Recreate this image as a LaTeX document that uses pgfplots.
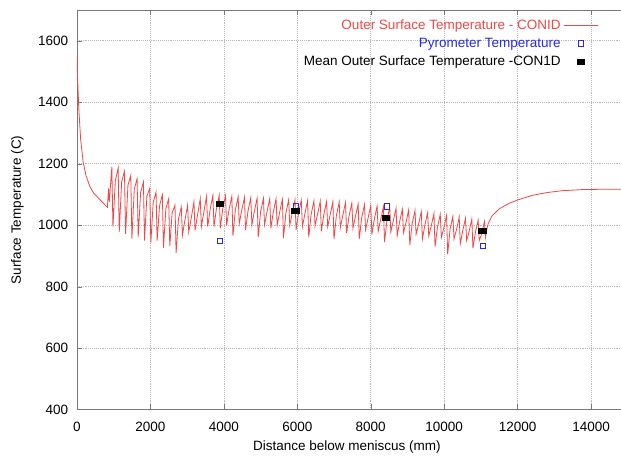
\documentclass[border=0pt]{standalone}
\usepackage{pgfplots}
\pgfplotsset{compat=1.18}
\usepackage{fontspec}
\setmainfont{Liberation Sans}
\definecolor{curvered}{RGB}{238,72,72}
\definecolor{pyroblue}{RGB}{40,40,230}
\definecolor{framegray}{RGB}{120,120,120}
\begin{document}
\begin{tikzpicture}
\begin{axis}[
  scale only axis,
  width=408pt, height=296pt,
  xmin=0, xmax=15000, ymin=400, ymax=1700,
  xtick={0,2000,4000,6000,8000,10000,12000,14000},
  ytick={400,600,800,1000,1200,1400,1600},
  scaled x ticks=false,
  /pgf/number format/assume math mode=true,
  xticklabel={\pgfmathprintnumber[1000 sep={}]{\tick}},
  yticklabel={\pgfmathprintnumber[1000 sep={}]{\tick}},
  grid=major,
  major grid style={densely dotted, gray!55},
  axis line style={framegray},
  tick style={framegray},
  major tick length=4pt,
  xticklabel style={yshift=-5.5pt},
  yticklabel style={xshift=-3pt},
  every axis y label/.style={at={(axis description cs:-0.108,0.5)}, rotate=90, anchor=center},
  every axis x label/.style={at={(axis description cs:0.49,-0.093)}, anchor=center},
  xlabel={Distance below meniscus (mm)},
  ylabel={Surface Temperature (C)},
  legend cell align=right,
  legend plot pos=right,
  legend style={draw=none, fill=none, at={(0.955,0.99)}, anchor=north east, row sep=0.8pt},
  legend image code/.code={\draw[mark repeat=2,mark phase=2] plot coordinates {(0cm,0cm)(0.45cm,0cm)(0.9cm,0cm)};},
]
\coordinate (bl) at (rel axis cs:0,0);
\coordinate (tl) at (rel axis cs:0,1);
\addplot[curvered, line width=0.6pt, no marks] coordinates {
(0,1550)(20,1470)(50,1380)(100,1280)(170,1205)(250,1160)(354,1125)(450,1105)(626,1083)(830,1058)(860,1120)(880,1075)
(950,1189)(980,995)(1045,1144)
(1122,1186)(1152,978)(1217,1141)
(1294,1175)(1324,972)(1389,1130)
(1466,1162)(1496,956)(1561,1117)
(1638,1151)(1668,962)(1733,1106)
(1810,1140)(1840,950)(1905,1095)
(1982,1119)(2012,943)(2077,1074)
(2154,1108)(2184,950)(2249,1063)
(2326,1099)(2356,926)(2421,1054)
(2498,1086)(2528,932)(2593,1041)
(2670,1065)(2700,909)(2765,1020)
(2842,1059)(2872,967)(2937,1014)
(3014,1065)(3044,978)(3109,1020)
(3186,1076)(3216,983)(3281,1031)
(3358,1086)(3388,995)(3453,1041)
(3530,1094)(3560,995)(3625,1049)
(3702,1097)(3732,995)(3797,1052)
(3874,1097)(3904,990)(3969,1052)
(4046,1095)(4076,1000)(4141,1050)
(4218,1094)(4248,965)(4313,1049)
(4390,1092)(4420,1005)(4485,1047)
(4562,1090)(4592,985)(4657,1045)
(4734,1089)(4764,1000)(4829,1044)
(4906,1088)(4936,960)(5001,1043)
(5078,1087)(5108,1002)(5173,1042)
(5250,1086)(5280,990)(5345,1041)
(5422,1085)(5452,1000)(5517,1040)
(5594,1084)(5624,958)(5689,1039)
(5766,1083)(5796,1000)(5861,1038)
(5938,1082)(5968,985)(6033,1037)
(6110,1081)(6140,995)(6205,1036)
(6282,1080)(6312,960)(6377,1035)
(6454,1079)(6484,998)(6549,1034)
(6626,1078)(6656,980)(6721,1033)
(6798,1077)(6828,995)(6893,1032)
(6970,1076)(7000,955)(7065,1031)
(7142,1075)(7172,992)(7237,1030)
(7314,1074)(7344,975)(7409,1029)
(7486,1072)(7516,990)(7581,1027)
(7658,1068)(7688,955)(7753,1023)
(7830,1066)(7860,985)(7925,1021)
(8002,1064)(8032,970)(8097,1019)
(8174,1062)(8204,980)(8269,1017)
(8346,1060)(8376,945)(8441,1015)
(8518,1058)(8548,978)(8613,1013)
(8690,1055)(8720,965)(8785,1010)
(8862,1052)(8892,975)(8957,1007)
(9034,1050)(9064,935)(9129,1005)
(9206,1047)(9236,970)(9301,1002)
(9378,1044)(9408,955)(9473,999)
(9550,1041)(9580,965)(9645,996)
(9722,1038)(9752,930)(9817,993)
(9894,1035)(9924,960)(9989,990)
(10066,1032)(10096,905)(10161,987)
(10238,1029)(10268,955)(10333,984)
(10410,1026)(10440,940)(10505,981)
(10582,1023)(10612,950)(10677,978)
(10754,1020)(10784,925)(10849,975)
(10926,1016)(10956,950)(11021,971)
(11098,1012)(11128,960)(11160,985)
(11200,1005)(11300,1030)(11500,1053)(11750,1070)(12000,1082)(12400,1097)(12800,1106)(13200,1112)(13800,1116)(14500,1117)(15000,1117)
};
\addlegendentry{\textcolor{curvered}{Outer Surface Temperature - CONID}}
\addplot[only marks, mark=square, mark size=2pt, pyroblue, mark options={line width=0.6pt}] coordinates {
(3900,948)(5960,1061)(8440,1061)(11050,932)
};
\addlegendentry{\textcolor{pyroblue}{Pyrometer Temperature}}
\addplot[only marks, mark=-, mark size=3.2pt, black, mark options={line width=4.5pt}] coordinates {
(3900,1070)(5960,1045)(8420,1023)(11050,980)
};
\addlegendentry{Mean Outer Surface Temperature -CON1D}
\end{axis}
\pgfresetboundingbox
\path ([shift={(-57pt,-40pt)}]bl) rectangle ([shift={(403pt,7.4pt)}]tl);
\end{tikzpicture}
\end{document}
